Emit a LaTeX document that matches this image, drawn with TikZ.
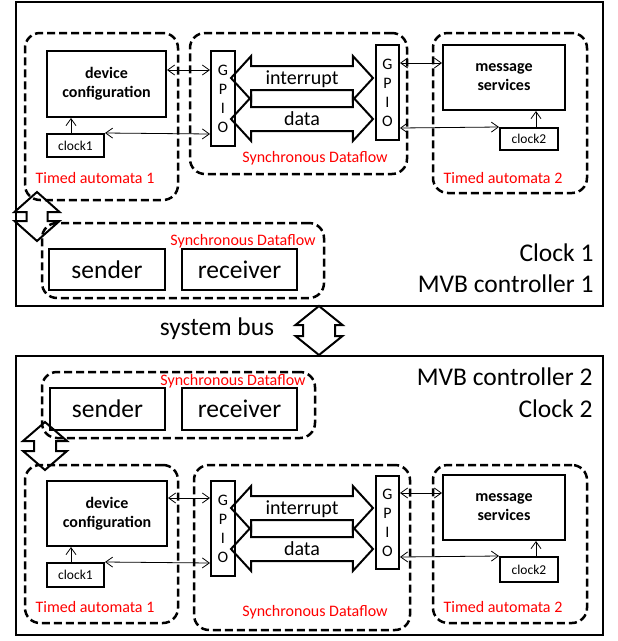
\documentclass[tikz,border=0pt]{standalone}
\usepackage{fontspec}
\setmainfont{Carlito}
\usetikzlibrary{shapes.arrows,arrows.meta}
\newcommand{\busshape}[5]{\draw[line width=2pt] (#1) -- ++(#2,#4) -- ++(-#3,0) -- ++(0,#5) -- ++(#3,0) -- ++(-#2,#4) -- ++(-#2,-#4) -- ++(#3,0) -- ++(0,-#5) -- ++(-#3,0) -- cycle;}

\begin{document}
\begin{tikzpicture}[x=1pt,y=-1pt,
  box/.style={draw,line width=2pt,inner sep=0pt},
  frame/.style={draw,line width=2.5pt,inner sep=0pt,minimum width=587pt},
  dashbox/.style={draw,line width=2.5pt,dash pattern=on 8pt off 4pt,rounded corners=15pt,inner sep=0pt},
  unit/.style={box,align=center,font=\bfseries\fontsize{16}{19}\selectfont},
  clk/.style={box,font=\fontsize{13.5}{16}\selectfont},
  port/.style={box,minimum width=115pt,font=\fontsize{25.5}{30}\selectfont},
  gpio/.style={box,minimum width=24pt,minimum height=95pt,align=center,font=\fontsize{16}{19}\selectfont},
  big/.style={font=\fontsize{25.5}{30}\selectfont},
  tag/.style={red,anchor=base,font=\fontsize{16}{19}\selectfont}]
\tikzset{>={Straight Barb[length=7pt,width=10pt]}, link/.style={line width=0.8pt},
  bigarrow/.style={double arrow,draw,line width=2pt,inner sep=0pt,double arrow tip angle=95,double arrow head extend=10pt,minimum width=42pt,minimum height=142pt,text height=17pt,text depth=5pt,font=\fontsize{20}{24}\selectfont}}
\useasboundingbox (0,0) rectangle (618,641);

\node[frame,minimum height=304pt] (ctrlA) at (309.5,154) {};
\node[dashbox,minimum width=153pt,minimum height=167pt] (taA1) at (101.5,116.5) {};
\node[dashbox,minimum width=217pt,minimum height=141pt] (sdfA) at (298.5,103.5) {};
\node[dashbox,minimum width=154pt,minimum height=160pt] (taA2) at (510,113) {};
\node[unit,minimum width=119pt,minimum height=66pt] (devA) at (106.5,84) {device\\configuration};
\node[clk,minimum width=57pt,minimum height=23pt] (clkA1) at (75.5,145.5) {clock1};
\node[gpio] (gpioAL) at (223,98.5) {G\\P\\I\\O};
\node[gpio,minimum width=23pt] (gpioAR) at (387.5,92.5) {G\\P\\I\\O};
\node[unit,minimum width=122pt,minimum height=65pt] (msgA) at (504,77.5) {message\\services};
\node[clk,minimum width=58pt,minimum height=22pt] (clkA2) at (529,139) {clock2};
\node[bigarrow] (intA) at (302,78) {interrupt};
\node[bigarrow] (datA) at (302,119) {data};
\draw[link,<->] ([yshift=14pt]devA.east) -- ([yshift=28.5pt]gpioAL.west);
\draw[link,<->] (clkA1.north east) -- ([yshift=-35.5pt]gpioAL.west);
\draw[link,->] ([xshift=-4.5pt]clkA1.north) -- ([xshift=-35.5pt]devA.south);
\draw[link,<->] ([yshift=29.5pt]gpioAR.east) -- ([yshift=14.5pt]msgA.west);
\draw[link,<->] ([yshift=-35.5pt]gpioAR.east) -- (clkA2.north west);
\draw[link,->] ([xshift=7pt]clkA2.north) -- ([xshift=32pt]msgA.south);
\node[tag] (taA1txt) at (95,183) {Timed automata 1};
\node[tag] (sdfAtxt) at (315,162) {Synchronous Dataflow};
\node[tag] (taA2txt) at (503,183) {Timed automata 2};

\node[dashbox,minimum width=282pt,minimum height=75pt] (sdfB) at (183,260.5) {};
\node[port,minimum width=116pt,minimum height=41pt] (sndA) at (107,269.5) {sender};
\node[port,minimum height=41pt] (rcvA) at (239.5,269.5) {receiver};
\node[tag] (sdfBtxt) at (243,245) {Synchronous Dataflow};
\coordinate (linkA) at (37,192);
\busshape{linkA}{22.5}{12}{20}{9}
\node[big,anchor=east] (clockA) at (597,253) {Clock 1};
\node[big,anchor=east] (mvbA) at (597,284) {MVB controller 1};

\coordinate (bus) at (319,306);
\busshape{bus}{23.5}{7.5}{19}{11}
\node[big,anchor=base] (bustxt) at (217,335) {system bus};

\node[frame,minimum height=279pt] (ctrlB) at (309.5,495.5) {};
\node[dashbox,minimum width=273pt,minimum height=66pt] (sdfC) at (178.5,405) {};
\node[port,minimum height=42pt] (sndB) at (107.5,409) {sender};
\node[port,minimum height=42pt] (rcvB) at (239.5,409) {receiver};
\node[tag] (sdfCtxt) at (233,385) {Synchronous Dataflow};
\node[big,anchor=east] (mvbB) at (596,377) {MVB controller 2};
\node[big,anchor=east] (clockB) at (596,409) {Clock 2};
\coordinate (linkB) at (45,422);
\busshape{linkB}{22}{11}{19}{10}

\node[dashbox,minimum width=153pt,minimum height=158pt] (taB1) at (101.5,544) {};
\node[dashbox,minimum width=216pt,minimum height=165pt] (sdfD) at (302,547.5) {};
\node[dashbox,minimum width=154pt,minimum height=158pt] (taB2) at (510,544) {};
\node[unit,minimum width=120pt,minimum height=65pt] (devB) at (107,513.5) {device\\configuration};
\node[clk,minimum width=57pt,minimum height=24pt] (clkB1) at (75.5,575) {clock1};
\node[gpio] (gpioBL) at (223,528.5) {G\\P\\I\\O};
\node[gpio,minimum width=23pt,minimum height=93pt] (gpioBR) at (387.5,522.5) {G\\P\\I\\O};
\node[unit,minimum width=122pt,minimum height=65pt] (msgB) at (504,507.5) {message\\services};
\node[clk,minimum width=58pt,minimum height=25pt] (clkB2) at (529,569.5) {clock2};
\node[bigarrow] (intB) at (302,508) {interrupt};
\node[bigarrow] (datB) at (302,549) {data};
\draw[link,<->] ([yshift=15.5pt]devB.east) -- ([yshift=30.5pt]gpioBL.west);
\draw[link,<->] (clkB1.north east) -- ([yshift=-34.5pt]gpioBL.west);
\draw[link,->] ([xshift=-4.5pt]clkB1.north) -- ([xshift=-36pt]devB.south);
\draw[link,<->] ([yshift=29.5pt]gpioBR.east) -- ([yshift=14.5pt]msgB.west);
\draw[link,<->] ([yshift=-34.5pt]gpioBR.east) -- (clkB2.north west);
\draw[link,->] ([xshift=7pt]clkB2.north) -- ([xshift=32pt]msgB.south);
\node[tag] (taB1txt) at (95,612) {Timed automata 1};
\node[tag] (sdfDtxt) at (315,616) {Synchronous Dataflow};
\node[tag] (taB2txt) at (503,612) {Timed automata 2};
\end{tikzpicture}
\end{document}
